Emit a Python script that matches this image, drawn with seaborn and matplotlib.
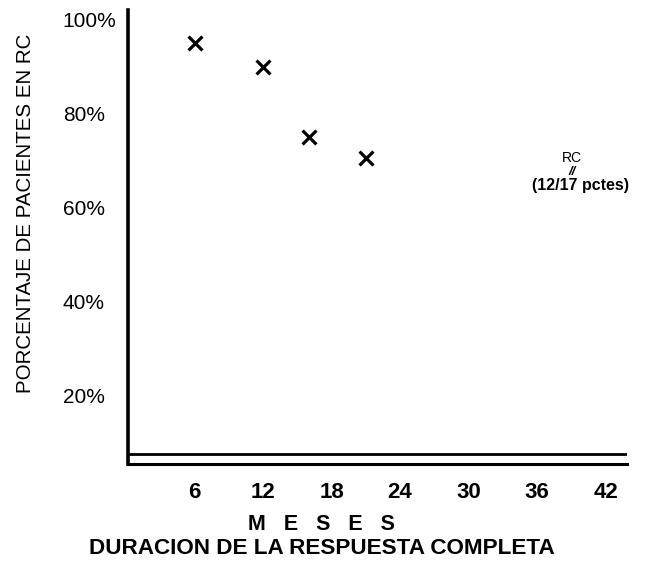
import matplotlib
matplotlib.use("Agg")
import matplotlib.pyplot as plt
import seaborn as sns
import pandas as pd

# ---- data ----
months = [6, 12, 16, 21]
pct_rc = [95, 90, 75, 70.6]
x_ticks = [6, 12, 18, 24, 30, 36, 42]
x_tick_labels = ["6", "12", "18", "24", "30", "36", "42"]
y_ticks = [20, 40, 60, 80, 100]
y_tick_labels = ["20%", "40%", "60%", "80%", "100%"]
ylabel = "PORCENTAJE DE PACIENTES EN RC"
xlabel_1 = "M   E   S   E   S"
xlabel_2 = "DURACION DE LA RESPUESTA COMPLETA"
note_lines = ["RC", "//", "(12/17 pctes)"]
note_x = 39.4
note_y = [70.6, 67.6, 64.8]

df = pd.DataFrame({"meses": months, "pct": pct_rc})

sns.set_style("white")
plt.rcParams["font.family"] = ["Liberation Sans", "DejaVu Sans"]
plt.rcParams["text.color"] = "black"
plt.rcParams["xtick.color"] = "black"
plt.rcParams["ytick.color"] = "black"
plt.rcParams["axes.labelcolor"] = "black"

W, H = 645, 563
fig = plt.figure(figsize=(W / 100, H / 100), dpi=100)
ax = fig.add_axes([128 / W, 1 - 464 / H, (627 - 128) / W, (464 - 10) / H])

sns.scatterplot(data=df, x="meses", y="pct", ax=ax, marker="x",
                color="black", s=100, linewidth=2.3, legend=False)

ax.set_xlim(0.17, 43.87)
ax.set_ylim(5.47, 102.06)

# spines
for s in ["top", "right"]:
    ax.spines[s].set_visible(False)
ax.spines["left"].set_linewidth(2.6)
ax.spines["bottom"].set_linewidth(2.2)
ax.spines["left"].set_color("black")
ax.spines["bottom"].set_color("black")
# second (upper) line of the double baseline
ax.axhline(7.6, color="black", linewidth=2.0, xmin=0, xmax=1)

ax.set_xticks(x_ticks)
ax.set_xticklabels(x_tick_labels, fontsize=16, fontweight="bold", color="black")
ax.set_yticks(y_ticks)
ax.set_yticklabels(y_tick_labels, fontsize=15, color="black")
for lab in ax.get_yticklabels():
    lab.set_horizontalalignment("left")
ax.tick_params(axis="y", length=0, pad=47)
ax.tick_params(axis="x", length=0, pad=13)

ax.set_xlabel("")
ax.set_ylabel(ylabel, fontsize=14.8, va="center", color="black")
ax.yaxis.set_label_coords(-0.206, 0.552)

fig.text(321 / W, 1 - 524 / H, xlabel_1, ha="center", va="center",
         fontsize=15.5, fontweight="bold", color="black")
fig.text(322 / W, 1 - 548 / H, xlabel_2, ha="center", va="center",
         fontsize=16.2, fontweight="bold", color="black")

ax.text(note_x - 0.4, note_y[0], note_lines[0], ha="center", va="center",
        fontsize=10, color="black")
ax.text(note_x - 0.3, note_y[1], note_lines[1], ha="center", va="center", fontsize=9.5,
        fontweight="bold", style="italic", color="black")
ax.text(note_x + 0.4, note_y[2], note_lines[2], ha="center", va="center",
        fontsize=11.5, fontweight="bold", color="black")

fig.savefig("out.png", dpi=100)
